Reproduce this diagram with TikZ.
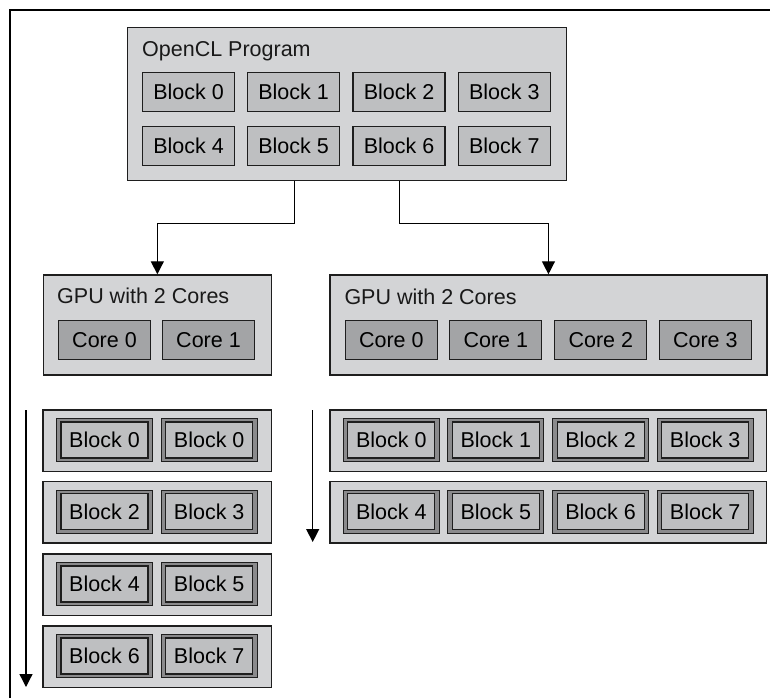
\documentclass[tikz,border=0pt]{standalone}
\usepackage{fontspec}
\setmainfont{Liberation Sans}
\usetikzlibrary{arrows.meta,calc}
\definecolor{panel}{RGB}{211,212,214}
\definecolor{blk}{RGB}{190,191,193}
\definecolor{corefill}{RGB}{163,164,166}
\definecolor{ringfill}{RGB}{138,138,140}
\definecolor{edge}{RGB}{30,30,30}
\begin{document}
\begin{tikzpicture}[x=1pt,y=-1pt,
  font=\fontsize{21.5}{25}\selectfont,
  panelbox/.style={draw=edge,fill=panel,line width=1.3pt,inner sep=0pt,anchor=north west},
  title/.style={anchor=base west,inner sep=0pt,text=black!90},
  blockbox/.style={draw=edge,fill=blk,line width=1.2pt,minimum width=92pt,minimum height=39pt,inner sep=0pt},
  corebox/.style={draw=edge,fill=corefill,line width=1.2pt,minimum width=92pt,minimum height=39pt,inner sep=0pt},
  ringout/.style={draw=edge,fill=ringfill,line width=1.1pt,minimum width=96pt,minimum height=43pt,inner sep=0pt},
  ringin/.style={draw=edge,fill=blk,line width=1.1pt,minimum width=87pt,minimum height=36pt,inner sep=0pt},
  conn/.style={draw=black,line width=1.3pt,-{Triangle[length=13pt,width=13pt]}},
  frameline/.style={draw=black,line width=1.8pt}
]
\useasboundingbox (0,0) rectangle (770,698);

% outer frame (top and left edges)
\draw[frameline] (10,698) -- (10,10) -- (770,10);

% OpenCL program with its eight blocks
\node[panelbox,minimum width=439pt,minimum height=153pt] (prog) at (127,27) {};
\node[title] (progtitle) at (142,57) {OpenCL Program};
\foreach \i/\x in {0/188.5,1/293.5,2/399,3/504.3}{
  \node[blockbox] (pb\i) at (\x,92) {Block \i};
}
\foreach \i/\x in {4/188.5,5/293.5,6/399,7/504.3}{
  \node[blockbox] (pb\i) at (\x,146.3) {Block \i};
}

% two-core GPU
\node[panelbox,minimum width=228pt,minimum height=100pt] (gpuL) at (42.7,274.3) {};
\node[title] (gpuLtitle) at (57,303) {GPU with 2 Cores};
\foreach \i/\x in {0/104.5,1/208.5}{
  \node[corebox] (cL\i) at (\x,339.8) {Core \i};
}

% four-core GPU
\node[panelbox,minimum width=437pt,minimum height=100pt] (gpuR) at (329.3,274.3) {};
\node[title] (gpuRtitle) at (344.3,304) {GPU with 2 Cores};
\foreach \i/\x in {0/391.3,1/495.8,2/600.8,3/705.3}{
  \node[corebox] (cR\i) at (\x,339.8) {Core \i};
}

% program to GPUs
\coordinate (s1) at ($(prog.south)+(-53,0)$);
\coordinate (s2) at ($(prog.south)+(52.5,0)$);
\draw[conn] (s1) -- ++(0,42) -| (gpuL.north);
\draw[conn] (s2) -- ++(0,42) -| (gpuR.north);

% schedule on the two-core GPU
\foreach \r/\top/\a/\b in {0/409.3/0/0,1/481/2/3,2/553.3/4/5,3/625.3/6/7}{
  \node[panelbox,minimum width=228.7pt,minimum height=61.4pt] (rowL\r) at (42.3,\top) {};
  \node[ringout] (qL\r a) at (104.5,\top+30.7) {};
  \node[ringin] (iL\r a) at (104.5,\top+30.7) {Block \a};
  \node[ringout] (qL\r b) at (209.2,\top+30.7) {};
  \node[ringin] (iL\r b) at (209.2,\top+30.7) {Block \b};
}
\coordinate (tLs) at (26,410);
\coordinate (tLe) at (26,687);
\draw[conn] (tLs) -- (tLe);

% schedule on the four-core GPU
\foreach \r/\top/\a/\b/\c/\d in {0/409.3/0/1/2/3,1/481/4/5/6/7}{
  \node[panelbox,minimum width=436.7pt,minimum height=61.4pt] (rowR\r) at (329.3,\top) {};
  \foreach \k/\x/\n in {0/391.3/\a,1/495.8/\b,2/600.6/\c,3/705.2/\d}{
    \node[ringout] (qR\r\k) at (\x,\top+30.7) {};
    \node[ringin] (iR\r\k) at (\x,\top+30.7) {Block \n};
  }
}
\coordinate (tRs) at (312.7,410);
\coordinate (tRe) at (312.7,542);
\draw[conn] (tRs) -- (tRe);
\end{tikzpicture}
\end{document}
